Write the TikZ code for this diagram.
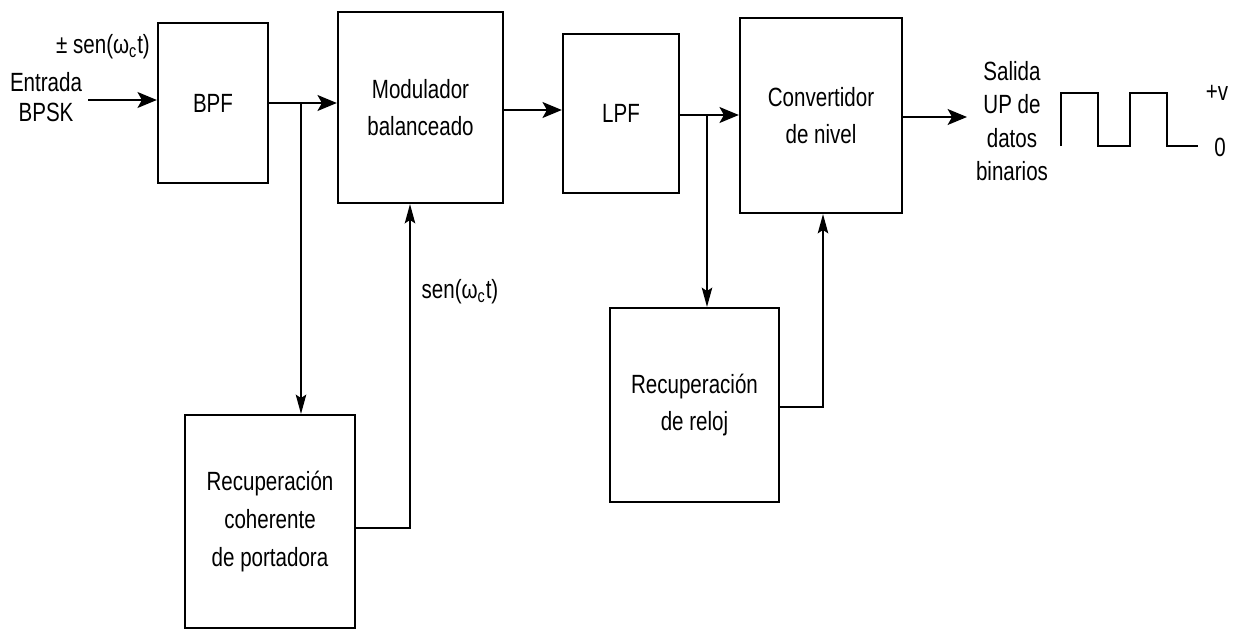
\documentclass[tikz,border=0pt]{standalone}
\usepackage{fontspec}
\setmainfont[FakeStretch=0.78]{Liberation Sans}
\usetikzlibrary{arrows.meta}
\begin{document}
\begin{tikzpicture}[x=0.02cm,y=-0.02cm,
  blk/.style={draw,line width=1.3pt,inner sep=0pt,align=center,
    font=\fontsize{15}{21.5}\selectfont},
  lbl/.style={inner sep=0pt,align=center,font=\fontsize{15}{19}\selectfont},
  mainarr/.style={line width=1.4pt,-{Stealth[length=11pt,width=9pt,inset=2.5pt]}},
  thinarr/.style={line width=0.7pt,-{Stealth[length=11pt,width=6pt,inset=2pt]}},
  thinline/.style={line width=0.7pt}]
\useasboundingbox (0,0) rectangle (1233,635);
% blocks
\node[blk,minimum width=2.2cm,minimum height=3.2cm] (bpf) at (213,103) {BPF};
\node[blk,minimum width=3.3cm,minimum height=3.82cm] (mod) at (420.5,107.5) {Modulador\\balanceado};
\node[blk,minimum width=2.32cm,minimum height=3.18cm] (lpf) at (621,113.5) {LPF};
\node[blk,minimum width=3.24cm,minimum height=3.9cm] (conv) at (821,115.5) {Convertidor\\de nivel};
\node[blk,minimum width=3.4cm,minimum height=4.26cm] (coh) at (270,521.5) {Recuperación\\coherente\\de portadora};
\node[blk,minimum width=3.38cm,minimum height=3.88cm] (rel) at (694.5,405) {Recuperación\\de reloj};
% helper coordinates
\coordinate (in) at (88,100);
\coordinate (y100) at (0,100);
\coordinate (y103) at (0,103);
\coordinate (y110) at (0,110);
\coordinate (y115) at (0,115);
\coordinate (y117) at (0,117);
\coordinate (y528) at (0,528);
\coordinate (y407) at (0,407);
\coordinate (x410) at (410,0);
\coordinate (x823) at (823,0);
\coordinate (j1) at (301,103);
\coordinate (j2) at (707,115);
\coordinate (out) at (967,117);
% connectors
\draw[mainarr] (in) -- (bpf.west |- y100);
\draw[mainarr] (bpf.east |- y103) -- (mod.west |- y103);
\draw[thinarr] (j1) -- (j1 |- coh.north);
\draw[thinarr] (coh.east |- y528) -| (mod.south -| x410);
\draw[mainarr] (mod.east |- y110) -- (lpf.west |- y110);
\draw[mainarr] (lpf.east |- y115) -- (conv.west |- y115);
\draw[thinarr] (j2) -- (j2 |- rel.north);
\draw[thinarr] (rel.east |- y407) -| (conv.south -| x823);
\draw[mainarr] (conv.east |- y117) -- (out);
% labels
\node[lbl] (pm) at (103,47) {± sen(ω\textsubscript{c}t)};
\node[lbl,font=\fontsize{15}{17.5}\selectfont] (ent) at (46,97) {Entrada\\BPSK};
\node[lbl] (sal) at (1012,121) {Salida\\UP de\\datos\\binarios};
\node[lbl] (sen) at (460,292) {sen(ω\textsubscript{c}t)};
\node[lbl] (pv) at (1217,93) {+v};
\node[lbl] (zero) at (1220,147) {0};
% waveform
\draw[line width=1.4pt] (1061,146) -- (1061,93) -- (1098,93) -- (1098,146) -- (1130,146)
  -- (1130,93) -- (1167,93) -- (1167,146) -- (1198,146);
\end{tikzpicture}
\end{document}
